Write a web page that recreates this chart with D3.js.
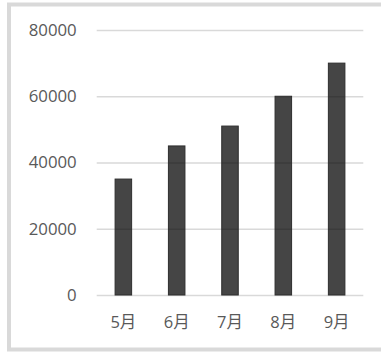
<!DOCTYPE html>
<html>
<head>
<meta charset="utf-8">
<script src="https://cdn.jsdelivr.net/npm/d3@7"></script>
<style>
  html, body { margin: 0; padding: 0; background: #fff; }
  svg { display: block; }
  text { font-family: "Open Sans", "Noto Sans CJK SC", sans-serif; fill: #595959; }
</style>
</head>
<body>
<div id="chart"></div>
<script>
// data
var months = ["5月", "6月", "7月", "8月", "9月"];
var sales = [35000, 45000, 51000, 60000, 70000];
var yTicks = [0, 20000, 40000, 60000, 80000];

var W = 381, H = 352;
var plot = { left: 96.7, right: 363.3, top: 30, bottom: 295 };

var svg = d3.select("#chart").append("svg").attr("width", W).attr("height", H);

// outer frame
svg.append("rect")
  .attr("x", 9).attr("y", 4.5).attr("width", 380).attr("height", 345)
  .style("fill", "none").style("stroke", "#d9d9d9").style("stroke-width", 4);

var x = d3.scaleBand().domain(months).range([plot.left, plot.right])
  .paddingInner(0.69).paddingOuter(0.345);
var y = d3.scaleLinear().domain([0, 80000]).range([plot.bottom, plot.top]);

// gridlines + y labels
var yAxis = svg.append("g")
  .attr("transform", "translate(" + plot.left + ",0)")
  .call(d3.axisLeft(y).tickValues(yTicks).tickFormat(d3.format("d"))
    .tickSize(-(plot.right - plot.left)).tickPadding(20));
yAxis.select(".domain").remove();
yAxis.selectAll(".tick line").style("stroke", "#d9d9d9").style("stroke-width", 1.3);
yAxis.selectAll(".tick text").style("font-size", "16.8px").style("fill", "#595959");

// bars
svg.append("g").selectAll("rect").data(sales).enter().append("rect")
  .attr("x", function(d, i){ return x(months[i]); })
  .attr("y", function(d){ return y(d); })
  .attr("width", x.bandwidth())
  .attr("height", function(d){ return y(0) - y(d); })
  .style("fill", "#000").style("fill-opacity", 0.73)
  .style("stroke", "#2e2e2e").style("stroke-width", 1);

// x labels
var xAxis = svg.append("g")
  .attr("transform", "translate(0," + plot.bottom + ")")
  .call(d3.axisBottom(x).tickSize(0).tickPadding(21));
xAxis.select(".domain").remove();
xAxis.selectAll(".tick text").style("font-size", "16.5px").style("fill", "#595959");
</script>
</body>
</html>
